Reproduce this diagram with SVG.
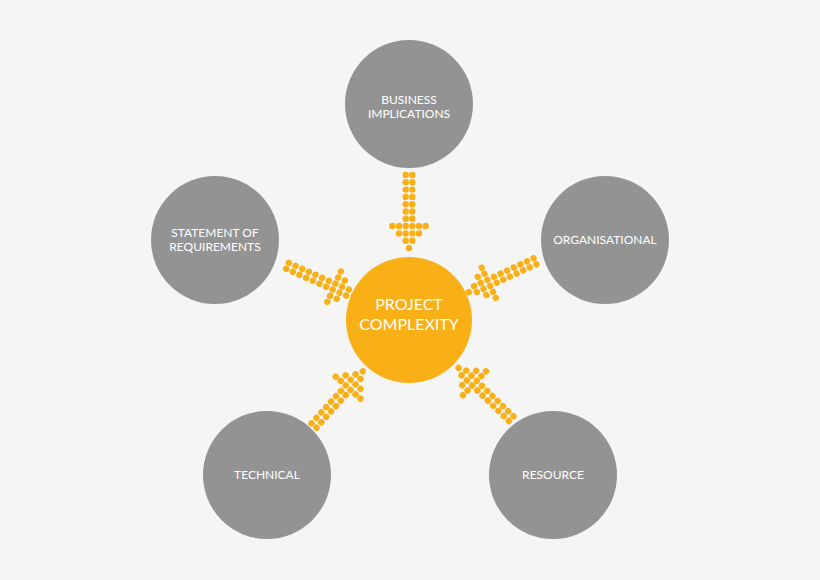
<svg xmlns="http://www.w3.org/2000/svg" xmlns:xlink="http://www.w3.org/1999/xlink" width="820" height="580" viewBox="0 0 820 580">
<style>
.n{fill:#939393}
.t{fill:#fff;font-family:Lato,"Open Sans",sans-serif;font-size:12px;text-anchor:middle}
.d{fill:#F9B016}
</style>
<defs>
<g id="arrow" class="d">
<circle cx="-73" cy="-3.3" r="3.2"/><circle cx="-73" cy="3.3" r="3.2"/>
<circle cx="-65.7" cy="-3.3" r="3.2"/><circle cx="-65.7" cy="3.3" r="3.2"/>
<circle cx="-58.4" cy="-3.3" r="3.2"/><circle cx="-58.4" cy="3.3" r="3.2"/>
<circle cx="-51.1" cy="-3.3" r="3.2"/><circle cx="-51.1" cy="3.3" r="3.2"/>
<circle cx="-43.8" cy="-3.3" r="3.2"/><circle cx="-43.8" cy="3.3" r="3.2"/>
<circle cx="-36.5" cy="-3.3" r="3.2"/><circle cx="-36.5" cy="3.3" r="3.2"/>
<circle cx="-29.2" cy="-3.3" r="3.2"/><circle cx="-29.2" cy="3.3" r="3.2"/>
<circle cx="-22" cy="-16.6" r="3.2"/><circle cx="-22" cy="-10" r="3.2"/><circle cx="-22" cy="-3.3" r="3.2"/><circle cx="-22" cy="3.3" r="3.2"/><circle cx="-22" cy="10" r="3.2"/><circle cx="-22" cy="16.6" r="3.2"/>
<circle cx="-14.6" cy="-10" r="3.2"/><circle cx="-14.6" cy="-3.3" r="3.2"/><circle cx="-14.6" cy="3.3" r="3.2"/><circle cx="-14.6" cy="10" r="3.2"/>
<circle cx="-7.3" cy="-3.3" r="3.2"/><circle cx="-7.3" cy="3.3" r="3.2"/>
<circle cx="0" cy="0" r="3.2"/>
</g>
</defs>
<rect width="820" height="580" fill="#f5f5f5"/>
<g id="connectors">
<use xlink:href="#arrow" href="#arrow" transform="translate(409,320) rotate(90) translate(-72,0)"/>
<use xlink:href="#arrow" href="#arrow" transform="translate(409,320) rotate(24) translate(-60,0)"/>
<use xlink:href="#arrow" href="#arrow" transform="translate(409,320) rotate(155) translate(-66,0)"/>
<use xlink:href="#arrow" href="#arrow" transform="translate(409,320) rotate(-48) translate(-69,0)"/>
<use xlink:href="#arrow" href="#arrow" transform="translate(409,320) rotate(224) translate(-69,0)"/>
</g>
<g id="business"><circle class="n" cx="409" cy="104" r="64"/><text class="t" x="409" y="104">BUSINESS</text><text class="t" x="409" y="118">IMPLICATIONS</text></g>
<g id="statement"><circle class="n" cx="215" cy="240" r="64"/><text class="t" x="215" y="237">STATEMENT OF</text><text class="t" x="215" y="251">REQUIREMENTS</text></g>
<g id="organisational"><circle class="n" cx="605" cy="240" r="64"/><text class="t" x="605" y="244">ORGANISATIONAL</text></g>
<g id="technical"><circle class="n" cx="267" cy="475" r="64"/><text class="t" x="267" y="479">TECHNICAL</text></g>
<g id="resource"><circle class="n" cx="553" cy="475" r="64"/><text class="t" x="553" y="479">RESOURCE</text></g>
<g id="center"><circle cx="409" cy="320" r="63" fill="#F9B016"/><text class="t" x="409" y="310" style="font-size:16px">PROJECT</text><text class="t" x="409" y="330" style="font-size:16px">COMPLEXITY</text></g>
</svg>
